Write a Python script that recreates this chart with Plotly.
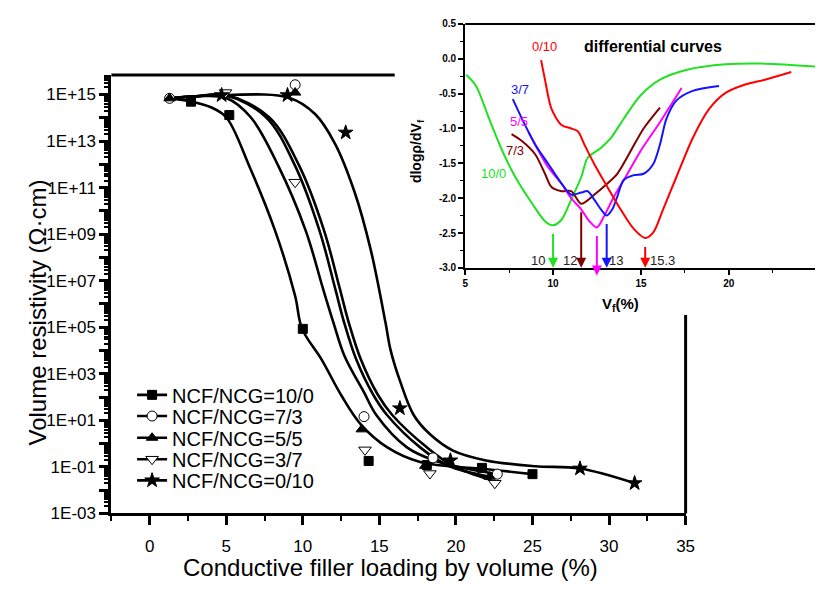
import plotly.graph_objects as go

W, H = 824, 592
def px(v): return v / W
def py(v): return 1 - v / H

# ---------------- main plot data (volume %, resistivity Ohm*cm) ----------------
series_names = ["NCF/NCG=10/0", "NCF/NCG=7/3", "NCF/NCG=5/5", "NCF/NCG=3/7", "NCF/NCG=0/10"]

x_10_0 = [2.7, 5.2, 10.0, 14.3, 18.1, 21.7, 25.0]
r_10_0 = [4.9e14, 1.3e14, 8.5e4, 1.8e-1, 1.2e-1, 9.1e-2, 4.9e-2]

x_7_3 = [1.3, 9.5, 14.0, 18.5, 22.7]
r_7_3 = [6.8e14, 2.6e15, 14.5, 2.45e-1, 4.9e-2]

x_5_5 = [1.3, 9.5, 13.85, 18.0, 22.2]
r_5_5 = [6.8e14, 1.2e15, 4.1, 1.12e-1, 3.8e-2]

x_3_7 = [4.95, 9.5, 14.06, 18.3, 22.54]
r_3_7 = [1.2e15, 1.7e11, 5.4e-1, 5.2e-2, 2.0e-2]

x_0_10 = [4.7, 9.0, 12.8, 16.34, 19.64, 28.1, 31.67]
r_0_10 = [9.3e14, 9.3e14, 2.3e13, 33.0, 1.9e-1, 8.5e-2, 2.0e-2]

# fitted curves (x, log10 resistivity)
fit_10_0_x = [1.3, 2.7, 4.0, 5.0, 6.5, 8.2, 9.5, 9.95, 11.23, 12.52, 13.8, 15.52, 17.66, 19.8, 21.7, 25.0]
fit_10_0_lg = [14.83, 14.7, 14.45, 14.02, 11.93, 9.13, 6.34, 4.94, 3.61, 2.07, 0.82, -0.16, -0.79, -0.98, -1.08, -1.31]

fit_7_3_x = [1.3, 3.0, 5.0, 6.6, 8.4, 10.2, 11.3, 12.0, 12.73, 14.0, 14.8, 16.8, 18.5, 20.5, 22.7]
fit_7_3_lg = [14.83, 14.92, 14.85, 14.02, 11.93, 9.13, 6.7, 5.2, 3.75, 2.2, 1.23, -0.16, -0.7, -1.05, -1.31]

fit_5_5_x = [1.3, 3.0, 5.0, 7.6, 9.5, 11.1, 12.1, 12.7, 13.5, 14.6, 15.5, 17.66, 19.5, 22.2]
fit_5_5_lg = [14.83, 14.92, 14.95, 14.02, 11.93, 9.13, 6.7, 5.2, 3.6, 2.1, 1.23, -0.16, -0.95, -1.42]

fit_3_7_x = [1.3, 3.0, 5.0, 7.8, 9.77, 11.4, 12.4, 13.0, 13.8, 14.9, 15.84, 18.1, 19.8, 22.3]
fit_3_7_lg = [14.83, 14.92, 14.97, 14.02, 11.93, 9.13, 6.7, 5.2, 3.6, 2.1, 1.23, -0.16, -0.95, -1.56]

fit_0_10_x = [1.3, 4.7, 9.09, 10.8, 12.09, 13.38, 14.45, 15.4, 15.73, 16.38, 17.24, 18.31, 19.81, 21.96, 25.17, 28.11, 31.67]
fit_0_10_lg = [14.83, 14.97, 14.86, 14.16, 12.9, 10.81, 8.29, 5.2, 4.03, 2.63, 1.23, 0.4, -0.3, -0.72, -0.97, -1.07, -1.7]

# ---------------- inset data (differential curves) ----------------
d10_0_x = [5.06, 5.62, 6.36, 7.11, 7.86, 8.79, 9.54, 10.0, 10.48, 11.03, 11.6, 11.97, 12.72, 13.28, 14.02, 14.96, 16.08, 17.57, 19.82, 22.06, 24.9]
d10_0_y = [-0.23, -0.39, -0.86, -1.32, -1.70, -2.07, -2.33, -2.39, -2.31, -2.02, -1.70, -1.42, -1.28, -1.14, -0.86, -0.53, -0.30, -0.16, -0.08, -0.07, -0.11]

d0_10_x = [9.32, 9.54, 9.91, 10.48, 11.03, 11.41, 11.78, 12.34, 13.09, 13.84, 14.59, 15.24, 15.7, 16.26, 17.01, 17.94, 18.88, 19.81, 20.93, 22.06, 23.55]
d0_10_y = [-0.02, -0.30, -0.72, -0.95, -1.0, -1.04, -1.23, -1.51, -1.84, -2.16, -2.44, -2.57, -2.49, -2.16, -1.70, -1.14, -0.72, -0.49, -0.37, -0.30, -0.19]

d3_7_x = [7.71, 8.23, 8.98, 9.73, 10.48, 11.03, 11.6, 11.97, 12.34, 12.72, 13.05, 13.37, 13.65, 14.02, 14.59, 15.15, 15.7, 16.08, 16.45, 17.01, 17.94, 19.44]
d3_7_y = [-0.58, -0.86, -1.23, -1.51, -1.79, -1.95, -1.92, -1.90, -2.02, -2.16, -2.25, -2.16, -1.98, -1.74, -1.67, -1.65, -1.51, -1.23, -0.86, -0.60, -0.46, -0.39]

d5_5_x = [8.6, 9.73, 10.48, 11.03, 11.6, 11.97, 12.49, 12.9, 13.46, 14.21, 14.96, 16.08, 17.31]
d5_5_y = [-1.05, -1.56, -1.79, -2.0, -2.16, -2.30, -2.42, -2.26, -1.98, -1.66, -1.33, -0.91, -0.42]

d7_3_x = [7.64, 8.23, 8.98, 9.54, 9.91, 10.48, 11.03, 11.6, 12.34, 13.09, 13.65, 14.4, 15.15, 16.08]
d7_3_y = [-1.08, -1.18, -1.37, -1.65, -1.84, -1.90, -1.90, -2.08, -1.95, -1.79, -1.65, -1.33, -1.0, -0.70]

inset_labels = ["10/0", "7/3", "5/5", "3/7", "0/10"]
inset_colors = ["#22e022", "#800000", "#ff00ff", "#1414ff", "#ff0000"]
inset_label_pos = [(6.64, -1.64), (7.86, -1.32), (8.05, -0.9), (8.14, -0.44), (9.54, 0.18)]

thr_x = [10.0, 11.6, 12.49, 13.05, 15.24]
thr_min = [-2.39, -2.08, -2.42, -2.25, -2.58]
thr_end = [-3.0, -3.0, -3.11, -3.0, -3.0]
thr_text = ["10", "12", "12.5", "13", "15.3"]
thr_text_pos = [(9.17, -2.9), (10.94, -2.9), (12.49, -3.13), (13.59, -2.9), (16.23, -2.9)]

FONT = "Liberation Sans"

fig = go.Figure()

# fitted curves
fits = [(fit_10_0_x, fit_10_0_lg), (fit_7_3_x, fit_7_3_lg), (fit_5_5_x, fit_5_5_lg),
        (fit_3_7_x, fit_3_7_lg), (fit_0_10_x, fit_0_10_lg)]
for fx, flg in fits:
    fig.add_trace(go.Scatter(x=fx, y=[10 ** v for v in flg], mode="lines",
                             line=dict(color="black", width=2.6, shape="spline", smoothing=1.0),
                             showlegend=False, hoverinfo="skip", xaxis="x", yaxis="y"))

def isolate(a):
    out = []
    for v in a:
        out += [v, None]
    return out[:-1]

pts = [(x_10_0, r_10_0, "square", "black"), (x_7_3, r_7_3, "circle", "white"),
       (x_5_5, r_5_5, "triangle-up", "black"), (x_3_7, r_3_7, "triangle-down", "white"),
       (x_0_10, r_0_10, "star", "black")]
sizes = [9, 10, 10, 11, 11]
for i, (xs, rs, sym, fill) in enumerate(pts):
    lg = "legend" if i == 0 else f"legend{i+1}"
    fig.add_trace(go.Scatter(x=isolate(xs), y=isolate(rs), mode="lines+markers", connectgaps=False,
                             name=series_names[i], legend=lg,
                             line=dict(color="black", width=2.6),
                             marker=dict(symbol=sym, size=sizes[i], color=fill,
                                         line=dict(color="black", width=1)),
                             xaxis="x", yaxis="y"))

# inset curves
dcurves = [(d10_0_x, d10_0_y), (d7_3_x, d7_3_y), (d5_5_x, d5_5_y), (d3_7_x, d3_7_y), (d0_10_x, d0_10_y)]
for (dx, dy), c in zip(dcurves, inset_colors):
    fig.add_trace(go.Scatter(x=dx, y=dy, mode="lines",
                             line=dict(color=c, width=2, shape="spline", smoothing=0.8),
                             showlegend=False, hoverinfo="skip", xaxis="x2", yaxis="y2"))

# ---------------- axes ----------------
dec = list(range(-3, 16))
ytickvals = [10.0 ** e for e in dec]
yticktext = [(f"1E{'+' if e >= 0 else '-'}{abs(e):02d}" if e % 2 else " ") for e in dec]
yminor = [m * 10.0 ** e for e in range(-3, 16) for m in range(2, 10)]

fig.update_layout(
    width=W, height=H, margin=dict(l=0, r=0, t=0, b=0),
    paper_bgcolor="white", plot_bgcolor="white",
    font=dict(family=FONT, color="black"),
    xaxis=dict(domain=[px(110), px(692.7)], range=[-2.5, 35], anchor="y",
               tick0=0, dtick=5, ticks="outside", ticklen=9, tickwidth=2.5, tickcolor="black",
               minor=dict(dtick=2.5, tick0=0, ticks="outside", ticklen=5, tickwidth=2, tickcolor="black"),
               showline=True, linewidth=3, linecolor="black", showgrid=False, zeroline=False,
               tickfont=dict(size=17, family=FONT, color="black"), ticklabelstandoff=6),
    yaxis=dict(domain=[py(521.7), py(71.7)], type="log", range=[-3, 15.84], anchor="x",
               tickmode="array", tickvals=ytickvals, ticktext=yticktext,
               ticks="outside", ticklen=9, tickwidth=2.5, tickcolor="black",
               minor=dict(tickmode="array", tickvals=yminor, ticks="outside", ticklen=4, tickwidth=1.5, tickcolor="black"),
               showline=True, linewidth=3, linecolor="black", showgrid=False, zeroline=False,
               tickfont=dict(size=17, family=FONT, color="black")),
    xaxis2=dict(domain=[px(469), 1.0], range=[5, 5 + (W - 469) / 17.84], anchor="y2",
                tick0=5, dtick=5, ticks="outside", ticklen=5, tickwidth=1.5, tickcolor="black",
                minor=dict(dtick=2.5, tick0=5, ticks="outside", ticklen=3, tickwidth=1.2, tickcolor="black"),
                showline=True, linewidth=2, linecolor="black", showgrid=False, zeroline=False,
                tickfont=dict(size=10, family=FONT, color="black", weight="bold")),
    yaxis2=dict(domain=[py(269.7), py(19.4)], range=[-3, 0.5], anchor="x2",
                tickmode="array", tickvals=[0.5, 0, -0.5, -1, -1.5, -2, -2.5, -3],
                ticktext=["0.5", "0.0", "-0.5", "-1.0", "-1.5", "-2.0", "-2.5", "-3.0"],
                ticks="outside", ticklen=5, tickwidth=1.5, tickcolor="black",
                minor=dict(tickmode="array", tickvals=[0.25, -0.25, -0.75, -1.25, -1.75, -2.25, -2.75],
                           ticks="outside", ticklen=3, tickwidth=1.2, tickcolor="black"),
                showline=True, linewidth=2, linecolor="black", showgrid=False, zeroline=False,
                tickfont=dict(size=10, family=FONT, color="black", weight="bold")),
)

# legends (one per series so rows can sit at the reference spacing)
leg_rows = [400, 421.7, 444, 466, 487.7]
for i, yrow in enumerate(leg_rows):
    key = "legend" if i == 0 else f"legend{i+1}"
    fig.update_layout({key: dict(x=px(131), y=py(yrow), xanchor="left", yanchor="middle",
                                 bgcolor="rgba(0,0,0,0)", borderwidth=0,
                                 font=dict(size=20, family=FONT, color="black"),
                                 tracegroupgap=0)})

shapes = [
    dict(type="line", xref="paper", yref="paper", x0=px(110), x1=px(397.5), y0=py(71.7), y1=py(71.7),
         line=dict(color="black", width=3)),
    dict(type="line", xref="paper", yref="paper", x0=px(692.7), x1=px(692.7), y0=py(318), y1=py(521.7),
         line=dict(color="black", width=3)),
    dict(type="line", xref="paper", yref="paper", x0=px(469), x1=1.0, y0=py(19.4), y1=py(19.4),
         line=dict(color="black", width=2)),
]
fig.update_layout(shapes=shapes)

ann = [
    dict(text="Conductive filler loading by volume (%)", x=px(393), y=py(577), xref="paper", yref="paper",
         showarrow=False, font=dict(size=24, family=FONT, color="black"), xanchor="center", yanchor="middle"),
    dict(text="Volume resistivity (Ω·cm)", x=px(35), y=py(315), xref="paper", yref="paper",
         showarrow=False, textangle=-90, font=dict(size=24, family=FONT, color="black"),
         xanchor="center", yanchor="middle"),
    dict(text="<b>dlogρ/dV<sub>f</sub></b>", x=px(420), y=py(150), xref="paper", yref="paper",
         showarrow=False, textangle=-90, font=dict(size=14, family=FONT, color="black"),
         xanchor="center", yanchor="middle"),
    dict(text="<b>V<sub>f</sub>(%)</b>", x=px(627), y=py(307), xref="paper", yref="paper",
         showarrow=False, font=dict(size=15, family=FONT, color="black"), xanchor="center", yanchor="middle"),
    dict(text="<b>differential curves</b>", x=15.67, y=0.17, xref="x2", yref="y2",
         showarrow=False, font=dict(size=16, family=FONT, color="black"), xanchor="center", yanchor="middle"),
]
for lab, c, (lx, ly) in zip(inset_labels, inset_colors, inset_label_pos):
    ann.append(dict(text=lab, x=lx, y=ly, xref="x2", yref="y2", showarrow=False,
                    font=dict(size=13, family=FONT, color=c), xanchor="center", yanchor="middle"))
for xv, ymn, yend, c in zip(thr_x, thr_min, thr_end, inset_colors):
    ann.append(dict(text=" ", x=xv, y=yend, ax=xv, ay=ymn, xref="x2", yref="y2", axref="x2", ayref="y2",
                    showarrow=True, arrowhead=2, arrowsize=1, arrowwidth=2, arrowcolor=c, standoff=0))
for t, (tx, ty) in zip(thr_text, thr_text_pos):
    ann.append(dict(text=t, x=tx, y=ty, xref="x2", yref="y2", showarrow=False,
                    font=dict(size=13, family=FONT, color="#222"), xanchor="center", yanchor="middle"))
fig.update_layout(annotations=ann)

fig.write_html("out.html", config={"displayModeBar": False},
               post_script="document.body.style.margin='0px';document.body.style.overflow='hidden';")
